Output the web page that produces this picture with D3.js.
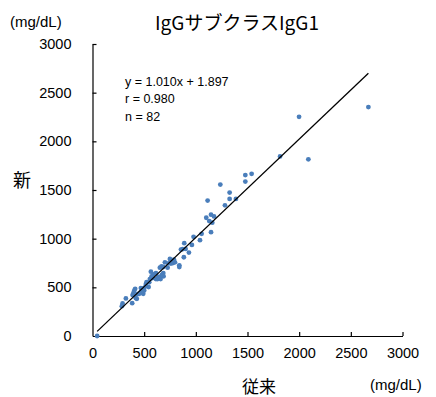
<!DOCTYPE html>
<html><head><meta charset="utf-8">
<script src="https://cdn.jsdelivr.net/npm/d3@7"></script>
<style>body{margin:0;background:#fff}svg{display:block}</style>
</head><body>
<script>
const title = "IgGサブクラスIgG1";
const xLabel = "従来";
const yLabel = "新";
const unit = "(mg/dL)";
const ticks = [0, 500, 1000, 1500, 2000, 2500, 3000];
const slope = 1.010, intercept = 1.897;
const statLines = ["y = 1.010x + 1.897", "r = 0.980", "n = 82"];
const oldVals = [45,2670,1999,2089,1815,1479,1540,1479,1237,1327,1327,1388,1282,1114,1101,1147,1176,1130,1159,1147,1056,978,1040,962,888,872,856,901,933,884,840,840,798,778,749,765,733,701,727,685,668,652,685,688,659,630,614,652,614,588,565,582,555,572,549,523,543,517,497,500,481,468,465,491,452,436,413,404,397,388,429,420,384,323,291,284,672,759,788,636,514,397];
const newVals = [0,2352,2252,1815,1845,1653,1666,1587,1556,1474,1408,1408,1343,1391,1215,1246,1229,1181,1164,1067,1050,1019,985,936,954,892,888,895,857,809,726,709,757,750,792,768,747,757,702,709,716,702,647,613,585,585,585,606,647,634,661,596,585,613,551,554,503,534,492,468,485,492,448,434,434,430,485,465,444,420,382,389,337,386,334,306,627,744,785,606,510,420];

const W = 436, H = 397;
const svg = d3.select("body").append("svg").attr("width", W).attr("height", H);
const x = d3.scaleLinear().domain([0, 3000]).range([92.5, 402.5]);
const y = d3.scaleLinear().domain([0, 3000]).range([336, 44]);
const font = "'Liberation Sans', Arial, sans-serif";
const jfont = "'Noto Sans CJK JP', sans-serif";
const fmt = d3.format("d");

// axes
const xa = svg.append("g").attr("transform", `translate(0,${y(0)})`)
  .call(d3.axisBottom(x).tickValues(ticks).tickFormat(fmt).tickSizeInner(-4).tickSizeOuter(0).tickPadding(12));
const ya = svg.append("g").attr("transform", `translate(${x(0)},0)`)
  .call(d3.axisLeft(y).tickValues(ticks).tickFormat(fmt).tickSizeInner(-4).tickSizeOuter(0).tickPadding(21));
[xa, ya].forEach(g => {
  g.select(".domain").attr("stroke", "#000").attr("stroke-width", 1.2);
  g.selectAll(".tick line").attr("stroke", "#000").attr("stroke-width", 1.2);
  g.selectAll(".tick text").attr("font-family", font).attr("font-size", 14.5).attr("fill", "#000");
});
xa.selectAll(".tick").filter(d => d === 0).select("line").remove();
ya.selectAll(".tick").filter(d => d === 0).select("line").remove();

// points
svg.append("g").selectAll("circle").data(oldVals.map((v, i) => [v, newVals[i]]))
  .join("circle").attr("cx", d => x(d[0])).attr("cy", d => y(d[1])).attr("r", 2.4)
  .attr("fill", "#4a7ebb");

// regression line
const x0 = d3.min(oldVals), x1 = d3.max(oldVals);
svg.append("line").attr("x1", x(x0)).attr("y1", y(slope * x0 + intercept))
  .attr("x2", x(x1)).attr("y2", y(slope * x1 + intercept))
  .attr("stroke", "#000").attr("stroke-width", 1.3);

// stats
svg.append("g").selectAll("text").data(statLines).join("text")
  .attr("x", 125).attr("y", (d, i) => [86, 103, 121][i])
  .attr("font-family", font).attr("font-size", 12.5).attr("fill", "#000").text(d => d);

// titles
svg.append("text").attr("x", 237).attr("y", 30).attr("text-anchor", "middle")
  .attr("font-family", jfont).attr("font-size", 19).attr("fill", "#000").text(title);
svg.append("text").attr("x", 10).attr("y", 27).attr("font-family", font)
  .attr("font-size", 15).attr("fill", "#000").text(unit);
svg.append("text").attr("x", 370).attr("y", 390).attr("font-family", font)
  .attr("font-size", 15).attr("fill", "#000").text(unit);
svg.append("text").attr("x", 259).attr("y", 393).attr("text-anchor", "middle")
  .attr("font-family", jfont).attr("font-size", 17).attr("fill", "#000").text(xLabel);
svg.append("text").attr("x", 22).attr("y", 187).attr("text-anchor", "middle")
  .attr("font-family", jfont).attr("font-size", 18).attr("fill", "#000").text(yLabel);
</script>
</body></html>
